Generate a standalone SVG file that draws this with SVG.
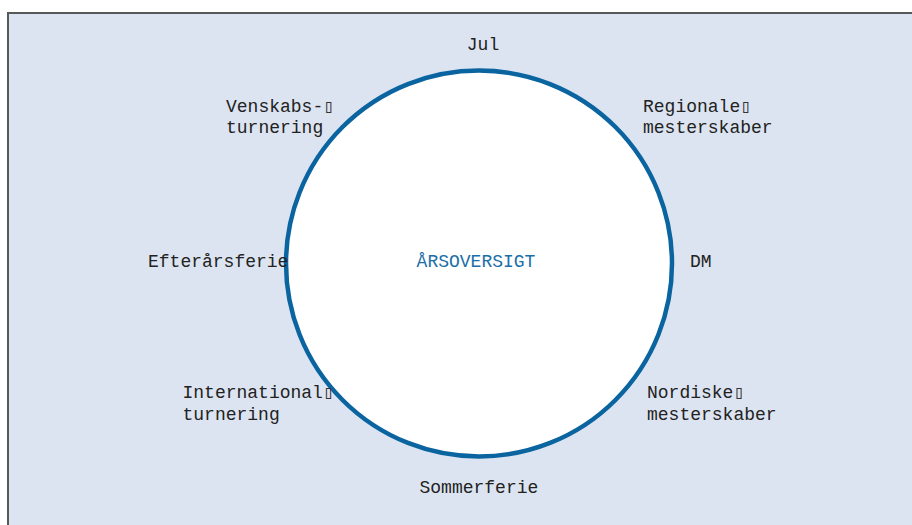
<svg xmlns="http://www.w3.org/2000/svg" width="912" height="525" viewBox="0 0 912 525">
<style>
.lbl{font-family:"Liberation Mono","Courier New",monospace;font-size:18px;fill:#222}
.title{font-family:"Liberation Mono","Courier New",monospace;font-size:18px;fill:#1b6ea8}
.box{font-family:"DejaVu Sans Mono","DejaVu Sans",monospace;fill:#333}
</style>
<rect x="0" y="0" width="912" height="525" fill="#ffffff"/>
<rect x="8" y="13" width="920" height="530" fill="#dde4f1" stroke="#58585a" stroke-width="2"/>
<g id="center">
<circle cx="479" cy="263.5" r="193" fill="#ffffff" stroke="#0a64a0" stroke-width="4.5"/>
<text class="title" x="476" y="266.5" text-anchor="middle">ÅRSOVERSIGT</text>
</g>
<g id="connectors"></g>
<g id="jul"><text class="lbl" x="483" y="50" text-anchor="middle">Jul</text></g>
<g id="regionale"><text class="lbl" x="643" y="111.5">Regionale<tspan class="box">▯</tspan></text><text class="lbl" x="643" y="133">mesterskaber</text></g>
<g id="dm"><text class="lbl" x="690" y="266.5">DM</text></g>
<g id="nordiske"><text class="lbl" x="647" y="398">Nordiske<tspan class="box">▯</tspan></text><text class="lbl" x="647" y="419.5">mesterskaber</text></g>
<g id="sommerferie"><text class="lbl" x="419.5" y="493">Sommerferie</text></g>
<g id="international"><text class="lbl" x="182.5" y="398">International<tspan class="box">▯</tspan></text><text class="lbl" x="182.5" y="419.5">turnering</text></g>
<g id="efteraarsferie"><text class="lbl" x="148" y="266.5">Efterårsferie</text></g>
<g id="venskabs"><text class="lbl" x="226" y="111.5">Venskabs-<tspan class="box">▯</tspan></text><text class="lbl" x="226" y="133">turnering</text></g>
</svg>
